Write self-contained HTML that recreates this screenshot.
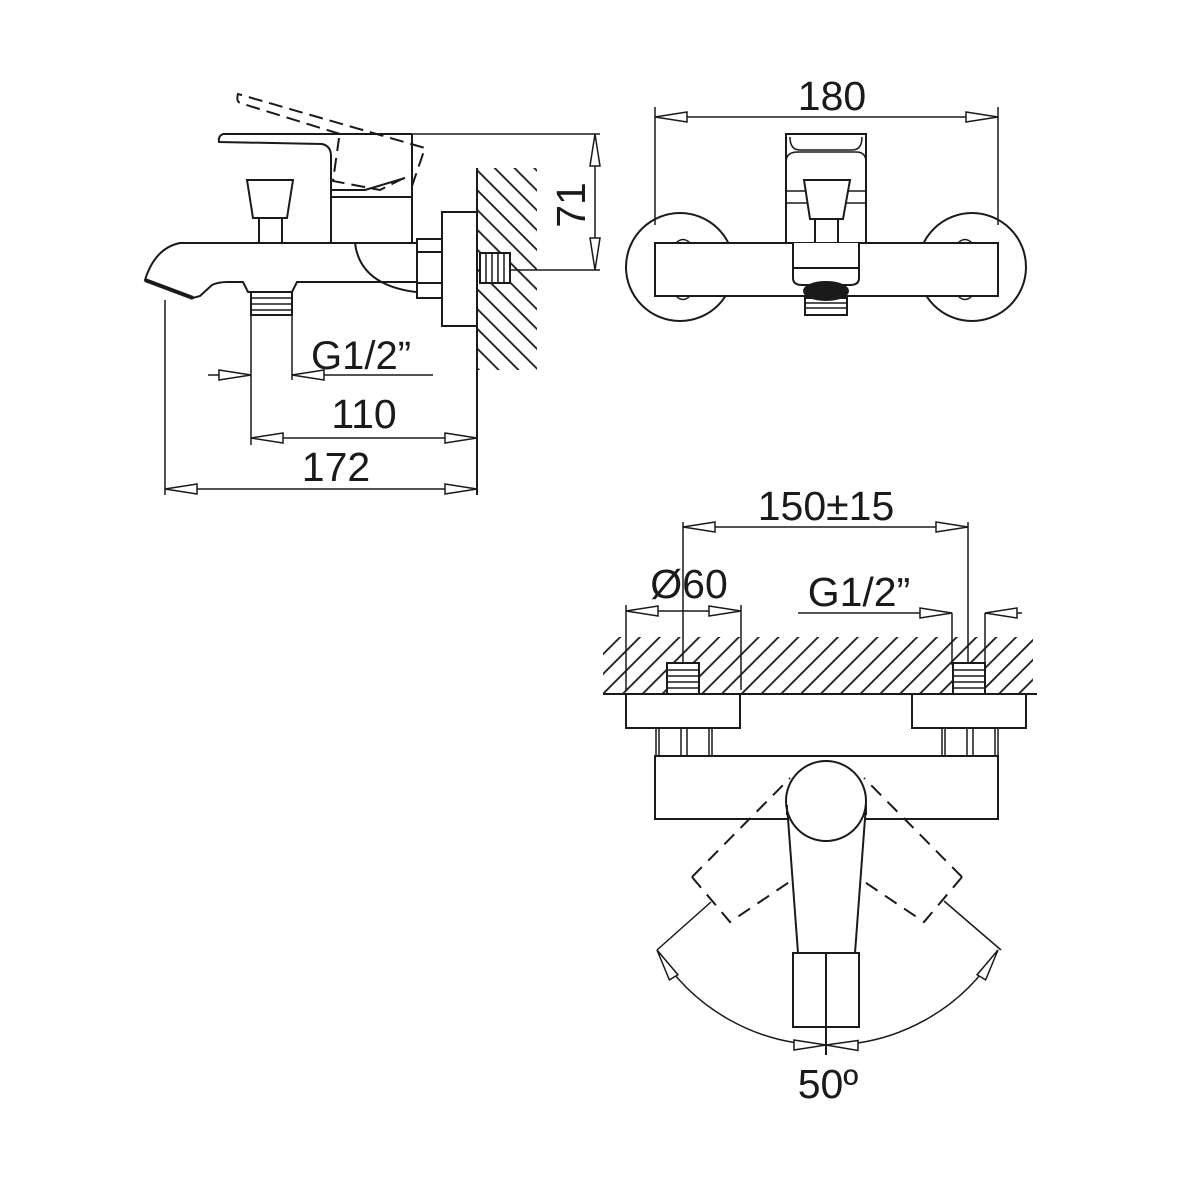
<!DOCTYPE html>
<html><head><meta charset="utf-8"><style>
html,body{margin:0;padding:0;background:#fff;}
svg{display:block;}
text{font-family:"Liberation Sans",sans-serif;font-size:41px;fill:#1a1a1a;}
</style></head><body>
<svg width="1181" height="1181" viewBox="0 0 1181 1181" xmlns="http://www.w3.org/2000/svg">
<defs>
<marker id="a" markerUnits="userSpaceOnUse" markerWidth="40" markerHeight="14" viewBox="-34 -7 36 14" refX="0" refY="0" orient="auto-start-reverse">
<path d="M0,0 L-32,-5 L-32,5 Z" fill="#fff" stroke="#1a1a1a" stroke-width="1.5"/>
</marker>
<pattern id="hb" patternUnits="userSpaceOnUse" width="14" height="14" patternTransform="rotate(-45)">
<line x1="7" y1="-2" x2="7" y2="16" stroke="#1a1a1a" stroke-width="1.8"/>
</pattern>
<pattern id="hf" patternUnits="userSpaceOnUse" width="14" height="14" patternTransform="rotate(45)">
<line x1="7" y1="-2" x2="7" y2="16" stroke="#1a1a1a" stroke-width="1.8"/>
</pattern>
</defs>
<g fill="none" stroke="#1a1a1a" stroke-width="2">
<!-- ============ SIDE VIEW ============ -->
<rect x="478" y="168" width="59" height="202" fill="url(#hb)" stroke="none"/>
<line x1="477" y1="168" x2="477" y2="495"/>
<path d="M340,134 L240,103 Q236,101 238,94 L425,148 L412,186 M404,178 L380,190 L333,181 L339,138" stroke-dasharray="14,7"/>
<path d="M412,134 L223,134 Q218,136 219,142 L322,144 Q331,146 331,156 L331,190 L365,190 L405,178"/>
<line x1="412" y1="134" x2="600" y2="134" stroke-width="1.5"/>
<path d="M331,190 L331,243 M412,134 L412,243 M331,197 L412,197"/>
<path d="M247,180 L293,180 L287,218 L253,218 Z"/>
<path d="M259,218 L259,243 M282,218 L282,243"/>
<path d="M416,243 L180,243 Q155,248 145,280 L193,298 L200,296 L212,285 Q218,282 228,282 L243,282 L248,292 L292,292 L297,282 L416,282"/>
<path d="M145,280 L193,298" stroke-width="4"/>
<path d="M355,243 Q360,285 416,292"/>
<rect x="251" y="292" width="41" height="23"/>
<path d="M251,298 H292 M251,304 H292 M251,310 H292" stroke-width="1.5"/>
<rect x="417" y="239" width="25" height="59"/>
<path d="M417,252 H442 M417,283 H442"/>
<rect x="442" y="212" width="35" height="114"/>
<rect x="480" y="253" width="30" height="30" fill="#fff"/>
<path d="M486,253 V283 M492,253 V283 M498,253 V283 M504,253 V283" stroke-width="1.5"/>
<line x1="510" y1="270" x2="600" y2="270" stroke-width="1.5"/>
<line x1="595" y1="134" x2="595" y2="270" stroke-width="1.5" marker-start="url(#a)" marker-end="url(#a)"/>
<path d="M165,300 V495 M251,315 V445 M292,315 V380" stroke-width="1.5"/>
<line x1="208" y1="375" x2="251" y2="375" stroke-width="1.5" marker-end="url(#a)"/>
<line x1="433" y1="375" x2="292" y2="375" stroke-width="1.5" marker-end="url(#a)"/>
<line x1="251" y1="438" x2="477" y2="438" stroke-width="1.5" marker-start="url(#a)" marker-end="url(#a)"/>
<line x1="165" y1="489" x2="477" y2="489" stroke-width="1.5" marker-start="url(#a)" marker-end="url(#a)"/>

<!-- ============ FRONT VIEW ============ -->
<path d="M655,107 V225 M998,107 V225" stroke-width="1.5"/>
<line x1="655" y1="117" x2="998" y2="117" stroke-width="1.5" marker-start="url(#a)" marker-end="url(#a)"/>
<circle cx="680" cy="267" r="54"/>
<circle cx="972" cy="267" r="54"/>
<rect x="655" y="243" width="343" height="53" fill="#fff"/>
<path d="M676,243 Q683,236 690,243 M676,296 Q683,303 690,296 M958,243 Q965,236 972,243 M958,296 Q965,303 972,296" stroke-width="1.5"/>
<rect x="786" y="134" width="80" height="109" fill="#fff"/>
<path d="M790,137 Q790,150 800,150 L852,150 Q862,150 862,137" stroke-width="1.5"/>
<path d="M786,162 Q786,152 798,152 L856,152 Q866,152 866,162" stroke-width="1.5"/>
<path d="M786,191 H866 M786,203 H866" stroke-width="1.5"/>
<path d="M804,180 L850,180 L843,219 L810,219 Z" fill="#fff"/>
<path d="M815,219 V243 M838,219 V243"/>
<path d="M793,243 V278 Q793,285 802,285 L850,285 Q859,285 859,278 V243 M793,268 H859" fill="#fff"/>
<ellipse cx="826" cy="291" rx="22" ry="9" fill="#1a1a1a"/>
<rect x="805" y="298" width="42" height="17"/>
<path d="M805,303 H847 M805,308 H847" stroke-width="1.5"/>

<!-- ============ BOTTOM VIEW ============ -->
<rect x="603" y="637" width="430" height="57" fill="url(#hf)" stroke="none"/>
<line x1="603" y1="694" x2="1037" y2="694"/>
<path d="M683,522 V665 M968,522 V665 M626,605 V690 M741,605 V690 M952,613 V665 M985,613 V665" stroke-width="1.5"/>
<line x1="683" y1="527" x2="968" y2="527" stroke-width="1.5" marker-start="url(#a)" marker-end="url(#a)"/>
<line x1="626" y1="611" x2="741" y2="611" stroke-width="1.5" marker-start="url(#a)" marker-end="url(#a)"/>
<line x1="798" y1="613" x2="952" y2="613" stroke-width="1.5" marker-end="url(#a)"/>
<line x1="1022" y1="613" x2="985" y2="613" stroke-width="1.5" marker-end="url(#a)"/>
<rect x="667" y="663" width="32" height="31" fill="#fff"/>
<path d="M667,670 H699 M667,676 H699 M667,682 H699 M667,688 H699" stroke-width="1.5"/>
<rect x="953" y="663" width="32" height="31" fill="#fff"/>
<path d="M953,670 H985 M953,676 H985 M953,682 H985 M953,688 H985" stroke-width="1.5"/>
<rect x="626" y="694" width="114" height="34"/>
<rect x="912" y="694" width="114" height="34"/>
<path d="M656,728 V756 M659,728 V756 M681,728 V756 M687,728 V756 M709,728 V756 M712,728 V756 M942,728 V756 M945,728 V756 M967,728 V756 M973,728 V756 M995,728 V756 M998,728 V756" stroke-width="1.5"/>
<rect x="655" y="756" width="343" height="63"/>
<path d="M692,877 L790,778 M692,877 L730,922 L862,833 M962,877 L864,778 M962,877 L924,922 L792,833" stroke-dasharray="14,9"/>
<path d="M787,805 L798,953 L855,953 L866,805" fill="#fff"/>
<circle cx="826" cy="801" r="40" fill="#fff"/>
<path d="M787,815 V805 M866,815 V805"/>
<rect x="793" y="953" width="66" height="74"/>
<line x1="826" y1="953" x2="826" y2="1055"/>
<path d="M657,950 L711,902 M1001,950 L944,901" stroke-width="1.5"/>
<path d="M657,950 A198,198 0 0 0 826,1045" stroke-width="1.5" marker-start="url(#a)" marker-end="url(#a)"/>
<path d="M998,950 A198,198 0 0 1 826,1045" stroke-width="1.5" marker-start="url(#a)" marker-end="url(#a)"/>
</g>
<text x="361" y="369" text-anchor="middle" style="font-size:40px">G1/2”</text>
<text x="364" y="428" text-anchor="middle">110</text>
<text x="336" y="481" text-anchor="middle">172</text>
<text transform="translate(585,205) rotate(-90)" text-anchor="middle">71</text>
<text x="832" y="110" text-anchor="middle">180</text>
<text x="826" y="520" text-anchor="middle">150±15</text>
<text x="689" y="598" text-anchor="middle">Ø60</text>
<text x="859" y="606" text-anchor="middle">G1/2”</text>
<text x="828" y="1098" text-anchor="middle">50º</text>
</svg>
</body></html>
